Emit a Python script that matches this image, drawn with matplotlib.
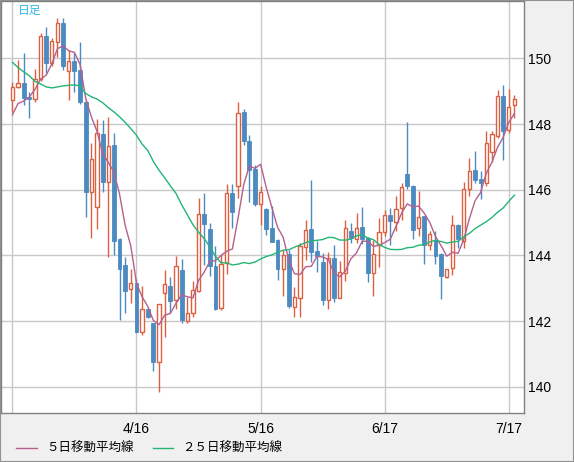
import matplotlib
matplotlib.use('Agg')
import matplotlib.pyplot as plt
from matplotlib.lines import Line2D
from matplotlib.patches import Rectangle
import numpy as np

# ---- data (USD/JPY daily) ----
opens = [148.72, 149.14, 149.24, 148.81, 148.75, 149.36, 150.68, 149.85, 150.51, 151.09,
         149.61, 149.92, 149.64, 148.68, 145.92, 145.48, 147.70, 146.25, 147.36, 144.50,
         143.71, 142.97, 143.15, 141.68, 142.36, 141.93, 140.75, 142.85, 143.08, 142.64,
         143.56, 142.01, 142.25, 142.91, 145.26, 144.81, 143.67, 142.40, 143.77, 145.90,
         146.10, 148.37, 147.49, 146.64, 145.56, 145.42, 144.83, 144.48, 143.60, 144.05,
         142.43, 142.70, 144.26, 144.81, 144.14, 143.79, 142.63, 143.92, 142.72, 143.48,
         144.75, 144.51, 144.88, 144.53, 143.46, 144.31, 144.70, 145.24, 145.02, 145.44,
         146.49, 146.12, 144.83, 145.19, 144.33, 144.48, 144.04, 143.35, 143.61, 144.92,
         144.45, 146.01, 146.60, 146.33, 146.21, 147.16, 147.64, 148.85, 147.82, 148.58]
highs = [149.28, 149.95, 150.15, 148.99, 149.67, 150.76, 150.96, 150.62, 151.22, 151.22,
         150.25, 150.17, 150.49, 148.72, 147.41, 148.15, 148.12, 148.20, 147.72, 144.52,
         143.96, 143.58, 143.27, 143.07, 142.41, 141.95, 142.53, 143.56, 143.33, 143.99,
         143.89, 142.74, 143.21, 145.75, 145.90, 144.99, 144.28, 144.00, 146.18, 146.18,
         148.67, 148.47, 147.68, 146.74, 146.10, 145.44, 145.51, 144.50, 144.17, 144.17,
         143.04, 144.38, 145.09, 146.29, 144.43, 144.07, 144.09, 144.33, 143.82, 145.09,
         144.99, 145.29, 145.49, 144.55, 144.48, 145.14, 145.39, 145.44, 145.80, 146.22,
         148.05, 146.15, 145.95, 145.20, 144.75, 144.73, 144.06, 143.60, 145.23, 144.96,
         146.24, 146.98, 147.18, 146.56, 147.79, 147.79, 149.04, 149.19, 149.07, 148.88]
lows = [148.37, 149.09, 148.58, 148.17, 148.68, 149.30, 149.54, 149.76, 150.05, 149.64,
        148.73, 148.99, 148.62, 145.16, 144.54, 144.82, 145.94, 143.96, 144.01, 142.05,
        142.24, 142.54, 141.63, 141.57, 142.09, 140.49, 139.85, 141.51, 142.26, 142.36,
        141.95, 141.95, 142.14, 142.88, 143.72, 143.36, 142.33, 142.35, 143.43, 144.83,
        145.75, 147.37, 145.62, 145.50, 144.92, 144.63, 144.41, 143.26, 142.77, 142.40,
        142.12, 142.12, 143.86, 143.79, 143.49, 142.50, 142.38, 142.57, 142.70, 143.21,
        144.38, 144.38, 144.35, 143.18, 142.78, 143.65, 144.58, 144.33, 144.73, 145.09,
        146.02, 144.50, 144.60, 143.74, 144.17, 143.75, 142.67, 143.32, 143.41, 144.22,
        144.22, 145.82, 146.22, 145.72, 146.12, 146.85, 147.56, 146.90, 147.72, 148.17]
closes = [149.12, 149.24, 148.80, 148.75, 149.36, 150.68, 149.85, 150.52, 151.07, 149.78,
          149.92, 149.62, 148.68, 145.94, 146.94, 147.72, 146.25, 147.33, 144.45, 143.58,
          142.93, 143.15, 141.68, 142.36, 142.14, 140.77, 142.52, 143.12, 142.62, 143.69,
          142.05, 142.24, 142.94, 145.26, 144.97, 143.67, 142.37, 143.74, 145.90, 145.31,
          148.33, 147.47, 146.59, 145.56, 145.93, 144.81, 144.41, 143.60, 144.02, 142.47,
          142.73, 144.28, 144.78, 144.09, 143.99, 142.63, 143.92, 142.72, 143.49, 144.83,
          144.52, 144.83, 144.50, 143.48, 144.04, 144.71, 145.22, 145.04, 145.41, 146.08,
          146.10, 144.76, 145.17, 144.33, 144.65, 143.97, 143.36, 143.58, 144.92, 144.50,
          146.01, 146.57, 146.30, 146.21, 147.41, 147.69, 148.85, 147.80, 148.51, 148.76]
# moving-average values before enough history is on the chart
ma5_head = [148.28, 148.62, 148.70, 148.82]
ma25_head = [149.88, 149.72, 149.59, 149.47, 149.30, 149.22, 149.13, 149.10, 149.13, 149.16,
             149.18, 149.19, 149.16, 148.93, 148.83, 148.76, 148.65, 148.50, 148.37, 148.22,
             148.05, 147.86, 147.66, 147.39]
tick_idx = [0, 22, 44, 66, 88]
tick_labels = ['', '4/16', '5/16', '6/17', '7/17']
y_ticks = [140, 142, 144, 146, 148, 150]
legend_labels = ['５日移動平均線', '２５日移動平均線']
title_text = '日足'

# ---- derived ----
o = np.array(opens); h = np.array(highs); l = np.array(lows); c = np.array(closes)
n = len(c)
x = np.arange(n)
ma5 = list(ma5_head) + [c[i - 4:i + 1].mean() for i in range(4, n)]
ma25 = list(ma25_head) + [c[i - 24:i + 1].mean() for i in range(24, n)]

ORANGE = '#dc6040'
BLUE = '#4b8bc1'
MAUVE = '#b5608e'
GREEN = '#22b574'
GRID = '#c8c8c8'
CJK = ['Noto Sans CJK JP', 'DejaVu Sans']

W, H = 574, 462
fig = plt.figure(figsize=(W / 100, H / 100), dpi=100, facecolor='#f0f0f0')
ax = fig.add_axes([0.5 / W, (H - 412.5) / H, 523 / W, 412 / H])
ax.set_facecolor('white')

up = c >= o
dn = ~up
ax.vlines(x[up], l[up], h[up], colors=ORANGE, lw=1.0, zorder=2)
ax.vlines(x[dn], l[dn], h[dn], colors=BLUE, lw=1.0, zorder=2)
ax.bar(x[up], (c - o)[up], bottom=o[up], width=0.58, facecolor='white',
       edgecolor=ORANGE, linewidth=1.0, zorder=3)
ax.bar(x[dn], (o - c)[dn], bottom=c[dn], width=0.68, facecolor=BLUE,
       edgecolor=BLUE, linewidth=0.6, zorder=3)

ax.plot(x, ma5, color=MAUVE, lw=1.0, zorder=4)
ax.plot(x, ma25, color=GREEN, lw=1.0, zorder=4)

ax.set_xlim(-2.1, 90.6)
ax.set_ylim(139.22, 151.76)
ax.set_xticks(tick_idx)
ax.set_xticklabels(tick_labels)
ax.set_yticks(y_ticks)
ax.set_yticklabels([str(v) for v in y_ticks])
ax.yaxis.tick_right()
ax.grid(True, color=GRID, lw=1.0)
ax.set_axisbelow(True)
ax.tick_params(axis='both', length=0, labelsize=10, colors='black')
ax.tick_params(axis='x', pad=7)
ax.tick_params(axis='y', pad=3)
for t in ax.get_xticklabels() + ax.get_yticklabels():
    t.set_fontfamily(['Liberation Sans', 'DejaVu Sans'])
for s in ax.spines.values():
    s.set_color('#808080')
    s.set_linewidth(1.0)

ax.text(17 / 523, 1 - 10 / 412, title_text, transform=ax.transAxes,
        color='#35b6ea', fontsize=8.5, va='center', ha='left', family=CJK)

# legend
ly = 1 - 448 / H
fig.add_artist(Line2D([16 / W, 37 / W], [ly, ly], color=MAUVE, lw=1.0))
fig.text(46 / W, ly, legend_labels[0], va='center', ha='left', fontsize=9, family=CJK)
fig.add_artist(Line2D([153 / W, 173 / W], [ly, ly], color=GREEN, lw=1.0))
fig.text(182 / W, ly, legend_labels[1], va='center', ha='left', fontsize=9, family=CJK)

fig.add_artist(Rectangle((0, 0), 1, 1, transform=fig.transFigure, fill=False,
                         edgecolor='#909090', lw=1.5))

fig.savefig('out.png', dpi=100, facecolor=fig.get_facecolor())
